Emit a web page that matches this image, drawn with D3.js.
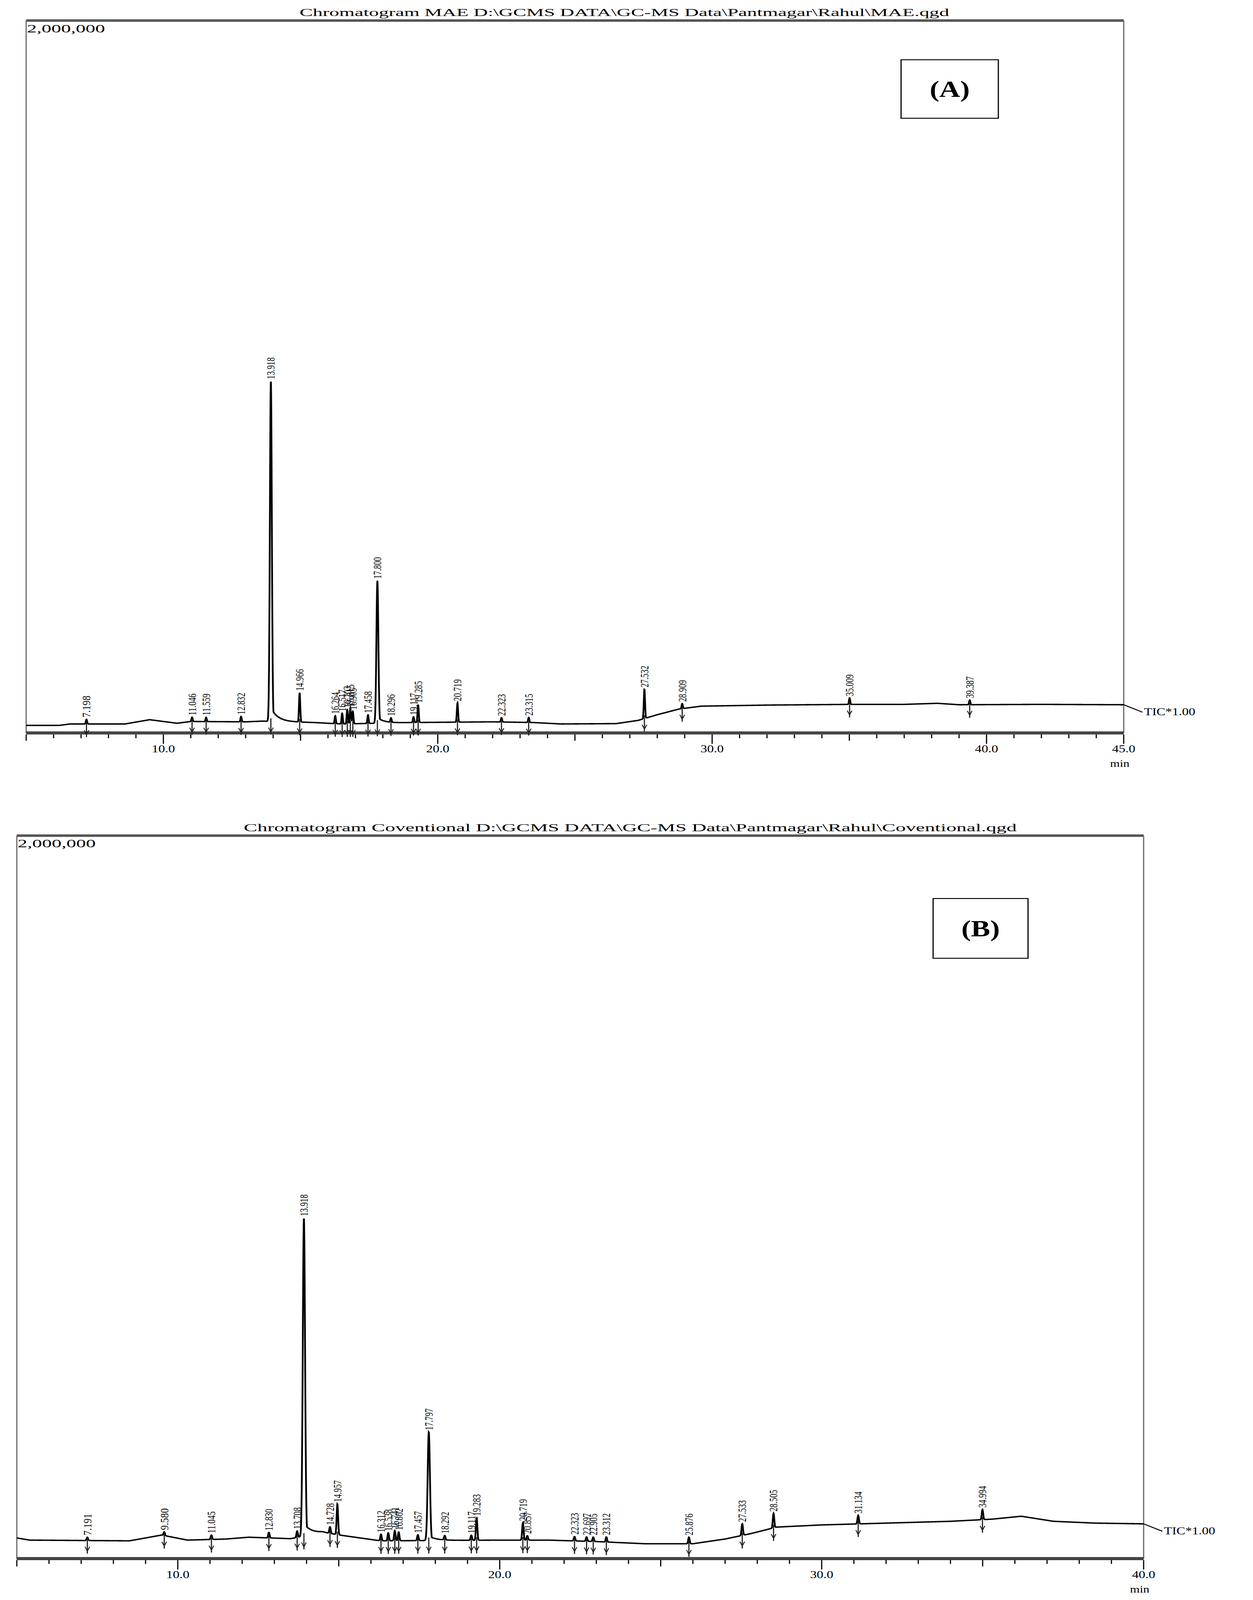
<!DOCTYPE html>
<html><head><meta charset="utf-8">
<script src="https://cdn.jsdelivr.net/npm/d3@7.9.0/dist/d3.min.js"></script>
<style>
html,body{margin:0;padding:0;background:#fff;overflow:hidden;}
#chart{display:block;width:100vw;height:100vh;}
text{font-family:"Liberation Serif","DejaVu Serif",serif;fill:#000;}
</style></head>
<body><svg id="chart" viewBox="0 0 3208 5141" preserveAspectRatio="none"></svg>
<script>
// ---- panel A (MAE) ----
const titleA = 'Chromatogram MAE D:\\GCMS DATA\\GC-MS Data\\Pantmagar\\Rahul\\MAE.qgd';
const baseA = [[5,22000],[6.2,22000],[6.6,26000],[8.6,26000],[9.5,38000],[10.5,28000],[11,33000],[13,32000],
  [13.6,34000],[15.5,30000],[16.5,26000],[19,30000],[22,32000],[23.5,30000],[24.5,26000],[26.5,27000],[27.3,36000],
  [28,52000],[28.8,68000],[29.6,76000],[32,79000],[35,81000],[37,81000],[38.2,84000],[39,80000],[42,81000],[45,80000]];
const peaksA = [[7.198,13000],[11.046,12000],[11.559,12000],[12.832,15000],[13.918,955000],[14.966,82000],
  [16.264,22000],[16.517,30000],[16.703,40000],[16.815,44000],[16.905,34000],[17.458,24000],[17.800,400000],
  [18.296,12000],[19.117,16000],[19.285,50000],[20.719,54000],[22.323,12000],[23.315,14000],[27.532,82000],
  [28.909,14000],[35.009,18000],[39.387,13000]];
const labelsA = ['7.198','11.046','11.559','12.832','13.918','14.966','16.264','16.517','16.703','16.815','16.905',
  '17.458','17.800','18.296','19.117','19.285','20.719','22.323','23.315','27.532','28.909','35.009','39.387'];
const ticksA = [10, 20, 30, 40, 45];

// ---- panel B (Conventional) ----
const titleB = 'Chromatogram Coventional D:\\GCMS DATA\\GC-MS Data\\Pantmagar\\Rahul\\Coventional.qgd';
const baseB = [[5,58000],[5.4,52000],[8.5,50000],[9.5,66000],[10.3,52000],[11.5,55000],[12.2,60000],[13.5,56000],
  [14.5,72000],[15.5,60000],[16.3,50000],[20,52000],[21.5,52000],[23,48000],[24.5,42000],[26,42000],[27,55000],
  [27.8,70000],[28.6,88000],[30,94000],[32,99000],[34,104000],[35.3,110000],[36.2,118000],[37.2,104000],
  [38.5,99000],[40,97000]];
const peaksB = [[7.191,9000],[9.580,10000],[11.045,12000],[12.830,15000],[13.708,18000],[13.918,880000],
  [14.728,18000],[14.957,85000],[16.312,18000],[16.538,22000],[16.741,28000],[16.862,24000],[17.457,16000],
  [17.797,300000],[18.292,12000],[19.117,14000],[19.283,62000],[20.719,48000],[20.857,12000],[22.323,12000],
  [22.697,12000],[22.905,12000],[23.312,14000],[25.876,18000],[27.533,32000],[28.505,40000],[31.134,24000],[34.994,28000]];
const labelsB = ['7.191','9.580','11.045','12.830','13.708','13.918','14.728','14.957','16.312','16.538','16.741',
  '16.862','17.457','17.797','18.292','19.117','19.283','20.719','20.857','22.323','22.697','22.905','23.312',
  '25.876','27.533','28.505','31.134','34.994'];
const ticksB = [10, 20, 30, 40];

const svg = d3.select('#chart');

function signal(t, base, peaks) {
  const b = d3.scaleLinear().domain(base.map(d => d[0])).range(base.map(d => d[1]))(t);
  let s = b;
  peaks.forEach(([rt, h]) => {
    const sig = h > 200000 ? 0.035 : 0.022;
    const dt = t - rt;
    let v = Math.exp(-dt * dt / (2 * sig * sig));
    if (h > 200000 && dt > 0) v = Math.max(v, 0.04 * Math.exp(-dt / 0.25));
    s += h * v;
  });
  return s;
}

function drawPanel(cfg) {
  const g = svg.append('g');
  const x = d3.scaleLinear().domain([5, cfg.xmax]).range([cfg.left, cfg.right]);
  const y = d3.scaleLinear().domain([0, 2000000]).range([cfg.bottom, cfg.top]);
  const baseAt = d3.scaleLinear().domain(cfg.base.map(d => d[0])).range(cfg.base.map(d => d[1]));

  g.append('text').attr('x', (cfg.titleX0 + cfg.titleX1) / 2).attr('y', cfg.top - 14)
    .attr('text-anchor', 'middle').attr('font-size', 34)
    .attr('textLength', cfg.titleX1 - cfg.titleX0).attr('lengthAdjust', 'spacingAndGlyphs')
    .text(cfg.title);

  // frame
  g.append('rect').attr('x', cfg.left).attr('y', cfg.top - 4).attr('width', cfg.right - cfg.left).attr('height', 8).attr('fill', '#555');
  g.append('line').attr('x1', cfg.left).attr('x2', cfg.left).attr('y1', cfg.top).attr('y2', cfg.bottom).attr('stroke', '#666').attr('stroke-width', 3);
  g.append('line').attr('x1', cfg.right).attr('x2', cfg.right).attr('y1', cfg.top).attr('y2', cfg.bottom).attr('stroke', '#666').attr('stroke-width', 3);
  g.append('rect').attr('x', cfg.left).attr('y', cfg.bottom - 6).attr('width', cfg.right - cfg.left).attr('height', 10).attr('fill', '#444');

  g.append('text').attr('x', cfg.left + 2).attr('y', cfg.top + 38).attr('font-size', 36)
    .attr('textLength', 200).attr('lengthAdjust', 'spacingAndGlyphs').text('2,000,000');

  // ticks
  d3.range(5, cfg.xmax + 0.01, 1).forEach(t => {
    const len = t % 10 === 0 || t === cfg.xmax ? 30 : (t % 5 === 0 ? 20 : 12);
    g.append('line').attr('x1', x(t)).attr('x2', x(t)).attr('y1', cfg.bottom + 4).attr('y2', cfg.bottom + 4 + len)
      .attr('stroke', '#000').attr('stroke-width', 3);
  });
  cfg.ticks.forEach(t => {
    g.append('text').attr('x', x(t)).attr('y', cfg.bottom + 62).attr('text-anchor', 'middle')
      .attr('font-size', 34).text(t.toFixed(1));
  });
  g.append('text').attr('x', cfg.right - 10).attr('y', cfg.bottom + 108).attr('text-anchor', 'middle')
    .attr('font-size', 32).text('min');

  // trace
  const ts = d3.range(5, cfg.xmax + 0.0001, 0.005);
  const line = d3.line().x(t => x(t)).y(t => y(signal(t, cfg.base, cfg.peaks)));
  g.append('path').attr('d', line(ts)).attr('fill', 'none').attr('stroke', '#000').attr('stroke-width', 4.5);
  const yEnd = y(signal(cfg.xmax, cfg.base, cfg.peaks));
  g.append('line').attr('x1', cfg.right).attr('y1', yEnd).attr('x2', cfg.right + 48).attr('y2', yEnd + 24)
    .attr('stroke', '#000').attr('stroke-width', 3);
  g.append('text').attr('x', cfg.right + 52).attr('y', yEnd + 34).attr('font-size', 34).text('TIC*1.00');

  // peak markers and labels
  cfg.peaks.forEach(([rt, h], i) => {
    const yb = y(baseAt(rt));
    const yt = y(signal(rt, cfg.base, cfg.peaks));
    g.append('line').attr('x1', x(rt)).attr('x2', x(rt)).attr('y1', yb - 10).attr('y2', yb + 42)
      .attr('stroke', '#222').attr('stroke-width', 3);
    g.append('path').attr('d', `M${x(rt) - 6},${yb + 20}L${x(rt)},${yb + 34}L${x(rt) + 6},${yb + 20}`)
      .attr('fill', 'none').attr('stroke', '#222').attr('stroke-width', 2.5);
    g.append('text').attr('transform', `translate(${x(rt) + 10},${yt - 6}) rotate(-90)`)
      .attr('font-size', 30).attr('textLength', 70).attr('lengthAdjust', 'spacingAndGlyphs')
      .text(cfg.labels[i]);
  });

  // panel tag box
  const [bx0, by0, bx1, by1] = cfg.box;
  g.append('rect').attr('x', bx0).attr('y', by0).attr('width', bx1 - bx0).attr('height', by1 - by0)
    .attr('fill', '#fff').attr('stroke', '#000').attr('stroke-width', 3);
  g.append('text').attr('x', (bx0 + bx1) / 2).attr('y', (by0 + by1) / 2 + 25).attr('text-anchor', 'middle')
    .attr('font-size', 74).attr('font-weight', 'bold').text(cfg.tag);
}

drawPanel({title: titleA, titleX0: 767, titleX1: 2430, xmax: 45, left: 67, right: 2877, top: 66, bottom: 2356,
  base: baseA, peaks: peaksA, labels: labelsA, ticks: ticksA, box: [2307, 192, 2556, 380], tag: '(A)'});
drawPanel({title: titleB, titleX0: 624, titleX1: 2603, xmax: 40, left: 43, right: 2928, top: 2685, bottom: 5009,
  base: baseB, peaks: peaksB, labels: labelsB, ticks: ticksB, box: [2389, 2887, 2632, 3079], tag: '(B)'});
</script></body></html>
